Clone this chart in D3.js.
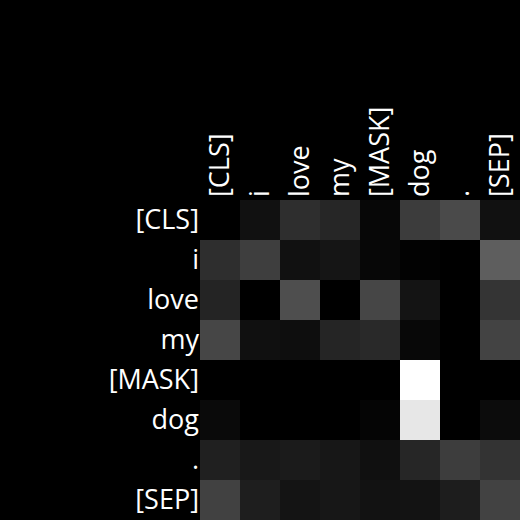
<!DOCTYPE html>
<html><head><meta charset="utf-8">
<script src="https://cdn.jsdelivr.net/npm/d3@7"></script>
<style>html,body{margin:0;padding:0;background:#000;}svg{display:block;}</style>
</head><body>
<script>
const tokens = ["[CLS]","i","love","my","[MASK]","dog",".","[SEP]"];
const rowCLS  = [0.000,0.067,0.180,0.149,0.027,0.235,0.290,0.067];
const rowI    = [0.180,0.243,0.067,0.082,0.027,0.008,0.000,0.369];
const rowLove = [0.141,0.000,0.306,0.000,0.275,0.078,0.000,0.204];
const rowMy   = [0.275,0.063,0.055,0.145,0.161,0.031,0.000,0.263];
const rowMask = [0.000,0.000,0.000,0.000,0.000,1.000,0.000,0.000];
const rowDog  = [0.039,0.000,0.000,0.000,0.020,0.906,0.000,0.047];
const rowDot  = [0.125,0.094,0.106,0.090,0.063,0.149,0.239,0.200];
const rowSep  = [0.255,0.118,0.078,0.090,0.071,0.075,0.114,0.259];
const matrix = [rowCLS,rowI,rowLove,rowMy,rowMask,rowDog,rowDot,rowSep];

const W=520,H=520;
const svg=d3.select("body").append("svg").attr("width",W).attr("height",H);
svg.append("rect").attr("width",W).attr("height",H).attr("fill","#000");
const x=d3.scaleBand().domain(d3.range(8)).range([200,520]);
const y=d3.scaleBand().domain(d3.range(8)).range([200,520]);
const color=d3.scaleLinear().domain([0,1]).range(["#000","#fff"]);
const cells=[];
matrix.forEach((r,i)=>r.forEach((v,j)=>cells.push({i,j,v})));
svg.selectAll("rect.c").data(cells).join("rect").attr("class","c")
  .attr("x",d=>x(d.j)).attr("y",d=>y(d.i))
  .attr("width",x.bandwidth()).attr("height",y.bandwidth())
  .attr("fill",d=>color(d.v));
const font="'Open Sans', sans-serif", fs=27;
svg.selectAll("text.r").data(tokens).join("text").attr("class","r")
  .attr("x",199).attr("y",(d,i)=>y(i)+y.bandwidth()/2).attr("dy","0.35em")
  .attr("text-anchor","end").attr("fill","#fff")
  .style("font-family",font).style("font-size",fs+"px").text(d=>d);
svg.selectAll("text.col").data(tokens).join("text").attr("class","col")
  .attr("transform",(d,i)=>`translate(${x(i)+x.bandwidth()/2},197) rotate(-90)`)
  .attr("dy","0.35em").attr("text-anchor","start").attr("fill","#fff")
  .style("font-family",font).style("font-size",fs+"px").text(d=>d);
</script>
</body></html>
